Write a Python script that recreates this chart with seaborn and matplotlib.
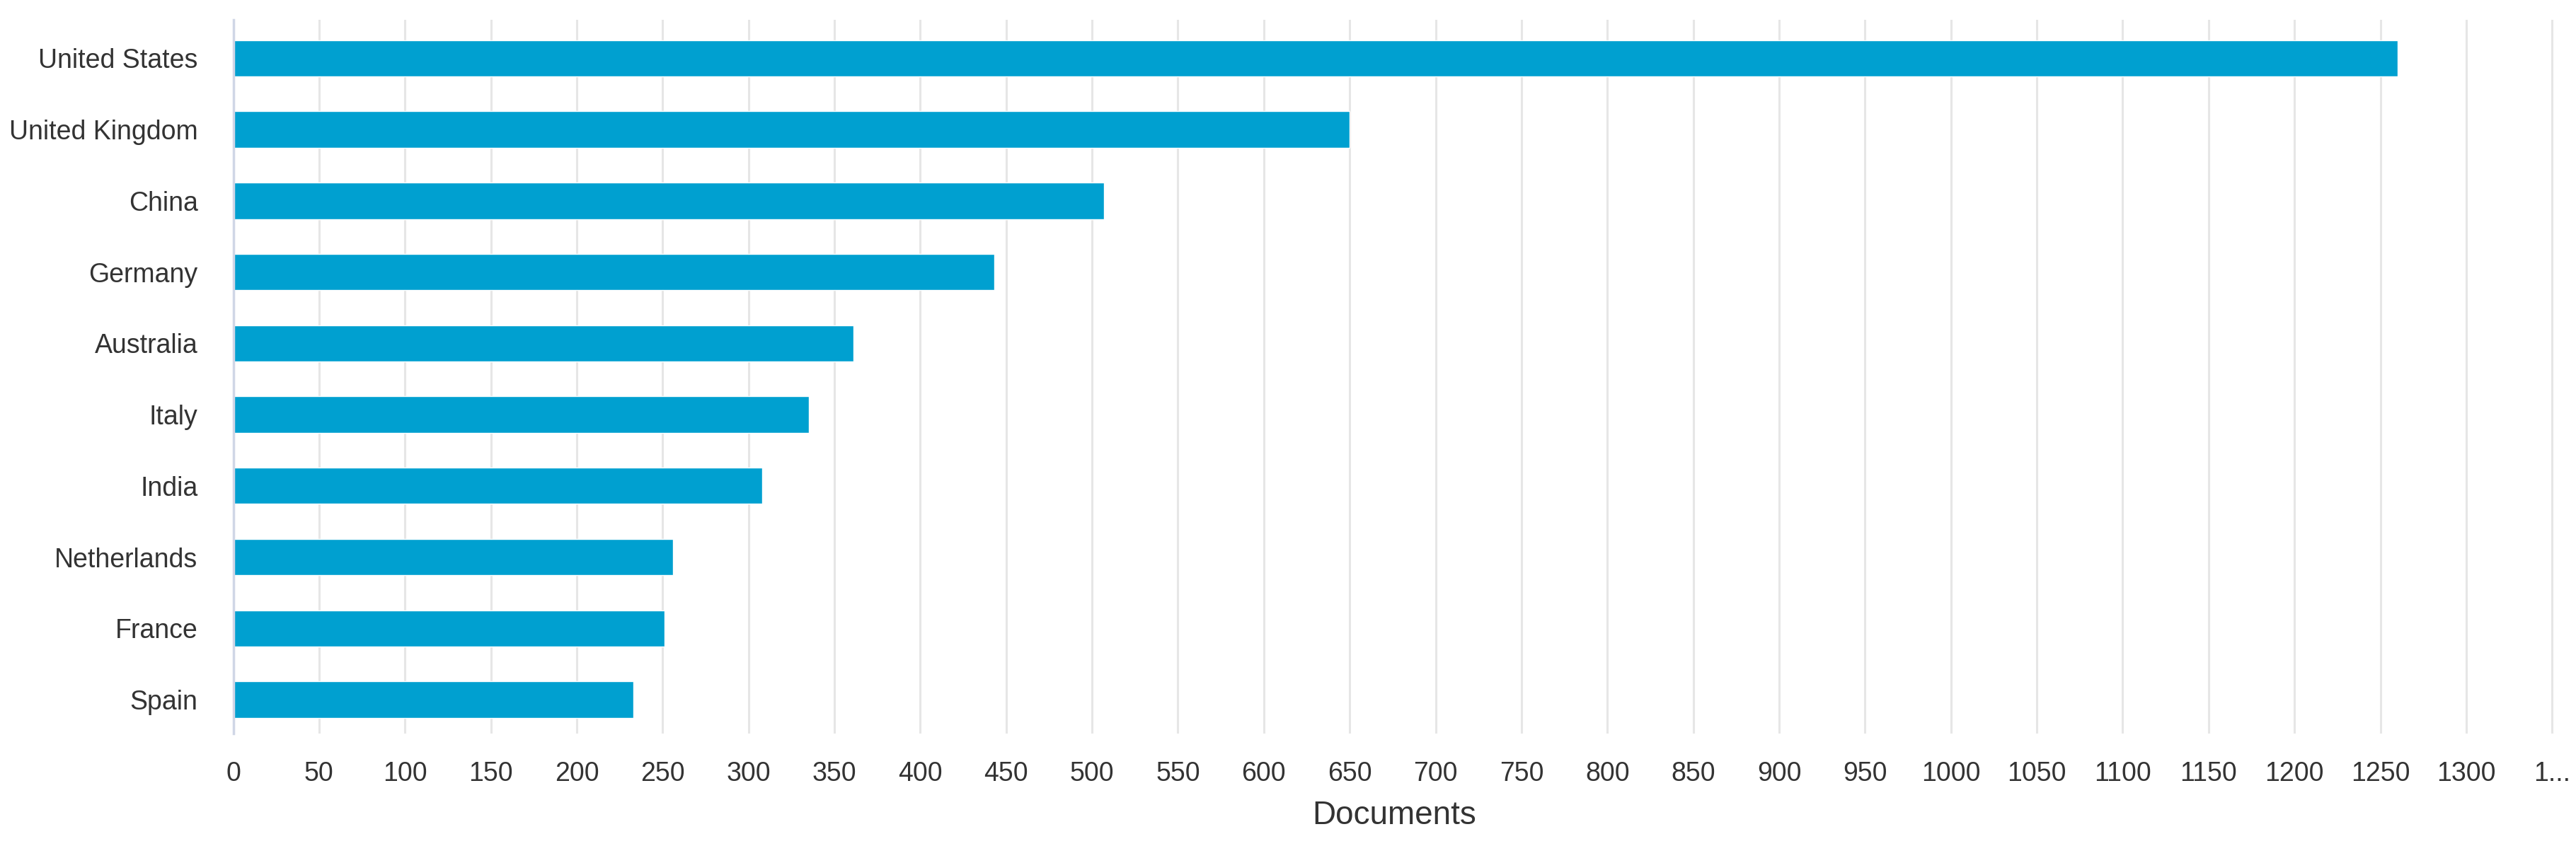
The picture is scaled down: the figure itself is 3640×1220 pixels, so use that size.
import matplotlib
matplotlib.use('Agg')
import matplotlib.pyplot as plt
import seaborn as sns
import pandas as pd

# Documents by country
countries = ['United States', 'United Kingdom', 'China', 'Germany', 'Australia',
             'Italy', 'India', 'Netherlands', 'France', 'Spain']
documents = [1260, 650, 507, 443, 361, 335, 308, 256, 251, 233]

x_ticks = list(range(0, 1351, 50))
x_tick_labels = [str(t) for t in x_ticks[:-1]] + ['1...']

df = pd.DataFrame({'country': countries, 'documents': documents})

sns.set_style('white')
plt.rcParams['font.family'] = ['Liberation Sans', 'DejaVu Sans']

fig = plt.figure(figsize=(36.41, 12.2), dpi=100)
ax = fig.add_axes([0.0905, 0.15, 0.9918 - 0.0905, 0.977 - 0.15])

sns.barplot(data=df, x='documents', y='country', color='#00A0D0',
            saturation=1, width=0.51, orient='h', ax=ax, zorder=3)

ax.set_xlim(0, 1352)
ax.set_ylim(9.477, -0.54)
ax.set_xticks(x_ticks)
ax.set_xticklabels(x_tick_labels)

# Light vertical grid, no frame except a faint left axis line
ax.grid(axis='x', color='#e6e6e6', linewidth=2.2, zorder=0)
ax.grid(axis='y', visible=False)
for side in ['top', 'right', 'bottom']:
    ax.spines[side].set_visible(False)
ax.spines['left'].set_color('#d0d6e6')
ax.spines['left'].set_linewidth(2.5)
ax.spines['left'].set_zorder(4)

ax.tick_params(axis='x', length=0, pad=28, labelsize=27, labelcolor='#333333')
ax.tick_params(axis='y', length=0, pad=36, labelsize=27, labelcolor='#333333')

ax.set_ylabel('')
ax.set_xlabel('Documents', fontsize=33, color='#333333', labelpad=14)

fig.savefig('out.png', dpi=100, facecolor='white')
